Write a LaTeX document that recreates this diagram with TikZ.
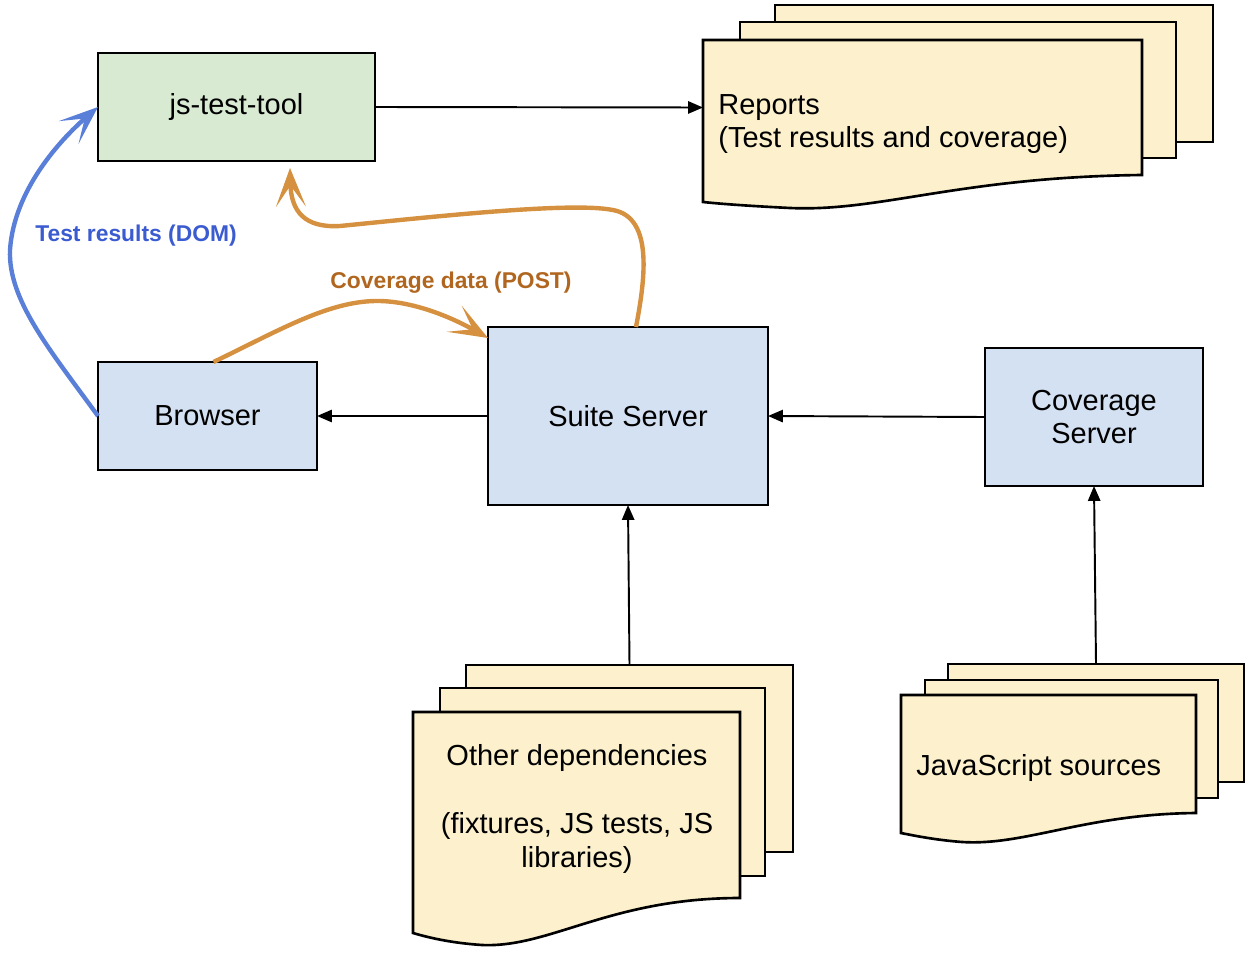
\documentclass[tikz,border=0pt]{standalone}
\usepackage{fontspec}
\setmainfont{Liberation Sans}
\usetikzlibrary{arrows.meta,calc}
\definecolor{jsfill}{HTML}{D9EAD3}
\definecolor{bluefill}{HTML}{D3E1F3}
\definecolor{docfill}{HTML}{FCF1CC}
\definecolor{orangeline}{HTML}{D5913F}
\definecolor{blueline}{HTML}{5A7FD8}
\definecolor{bluetext}{HTML}{3B5BD0}
\definecolor{browntext}{HTML}{B0661F}
\newdimen\pxu
\pxu=0.02cm
\begin{document}
\begin{tikzpicture}[x=0.02cm,y=-0.02cm,
  box/.style={draw=black, line width=1.5pt, inner sep=0pt, outer sep=0pt,
    font=\fontsize{16.5}{19}\selectfont, align=center},
  sheet/.style={draw=black, line width=1.5pt, fill=docfill, inner sep=0pt, outer sep=0pt},
  docline/.style={draw=black, line width=1.5pt, fill=docfill, line join=miter},
  doctext/.style={font=\fontsize{16.5}{19.3}\selectfont, inner sep=0pt},
  conn/.style={line width=1.1pt, -{Triangle[length=8.5pt,width=7pt]}},
  flow/.style={line width=2.5pt, -{Stealth[length=22pt,width=17pt,inset=12pt]}},
  flowlabel/.style={font=\bfseries\fontsize{13}{15}\selectfont, inner sep=0pt}
]
\useasboundingbox (0,0) rectangle (1250,953);

% main boxes
\node[box, fill=jsfill, minimum width=277\pxu, minimum height=108\pxu] (js) at (236.5,107) {\raisebox{-0.1em}{js-test-tool}};
\node[box, fill=bluefill, minimum width=219\pxu, minimum height=108\pxu] (brow) at (207.5,416) {Browser};
\node[box, fill=bluefill, minimum width=280\pxu, minimum height=178\pxu] (suite) at (628,416) {Suite Server};
\node[box, fill=bluefill, minimum width=218\pxu, minimum height=138\pxu] (cov) at (1094,417) {Coverage\\Server};

% Reports stack
\node[sheet, minimum width=438\pxu, minimum height=137\pxu] (rep3) at (994,73.5) {};
\node[sheet, minimum width=436\pxu, minimum height=136\pxu] (rep2) at (958,90) {};
\path[docline] (703,40) -- (1142,40) -- (1142,175)
  .. controls (960,177) and (880,212) .. (790,208)
  .. controls (750,206) and (722,204) .. (703,202) -- cycle;
\node[inner sep=0pt, outer sep=0pt, minimum width=439\pxu, minimum height=135\pxu] (rep) at (922.5,107.5) {};
\node[doctext, anchor=west, align=left] (reptext) at (718,124) {Reports\\(Test results and coverage)};

% Other dependencies stack
\node[sheet, minimum width=327\pxu, minimum height=187\pxu] (dep3) at (629.5,758.5) {};
\node[sheet, minimum width=325\pxu, minimum height=188\pxu] (dep2) at (602.5,782) {};
\path[docline] (413,712) -- (740,712) -- (740,898)
  .. controls (610,898) and (550,948) .. (482,945)
  .. controls (452,943) and (430,938) .. (413,933) -- cycle;
\node[doctext, align=center] (deptext) at (577,809) {Other dependencies\\[19.3pt](fixtures, JS tests, JS\\libraries)};

% JavaScript sources stack
\node[sheet, minimum width=296\pxu, minimum height=118\pxu] (src3) at (1096,723) {};
\node[sheet, minimum width=293\pxu, minimum height=118\pxu] (src2) at (1071.5,739) {};
\path[docline] (901,695) -- (1196,695) -- (1196,813)
  .. controls (1085,814) and (1025,846) .. (962,842)
  .. controls (936,840) and (916,836) .. (901,833) -- cycle;
\node[doctext, anchor=west] (srctext) at (916,768) {JavaScript sources};

% black connectors
\draw[conn] (js.east) -- (rep.west);
\draw[conn] (suite.west) -- (brow.east);
\draw[conn] (cov.west) -- (suite.east);
\draw[conn] (dep3.north) -- (suite.south);
\draw[conn] (src3.north) -- (cov.south);

% blue flow
\draw[flow, blueline] (brow.west)
  .. controls (50,350) and (8,300) .. (10,250)
  .. controls (14,190) and (60,140) .. (js.west);
\node[flowlabel, text=bluetext] (lbldom) at (136,236) {Test results (DOM)};

% orange flows
\draw[flow, orangeline] ($(brow.north)+(6,0)$)
  .. controls (280,330) and (330,300) .. (380,301)
  .. controls (420,302) and (460,322) .. ($(suite.north west)+(0,11)$);
\draw[flow, orangeline] ($(suite.north)+(8,0)$)
  .. controls (645,280) and (652,225) .. (620,212)
  .. controls (590,200) and (450,215) .. (340,226)
  .. controls (305,228) and (291,212) .. ($(js.south west)+(192,7)$);
\node[flowlabel, text=browntext] (lblpost) at (451,283) {Coverage data (POST)};
\end{tikzpicture}
\end{document}
